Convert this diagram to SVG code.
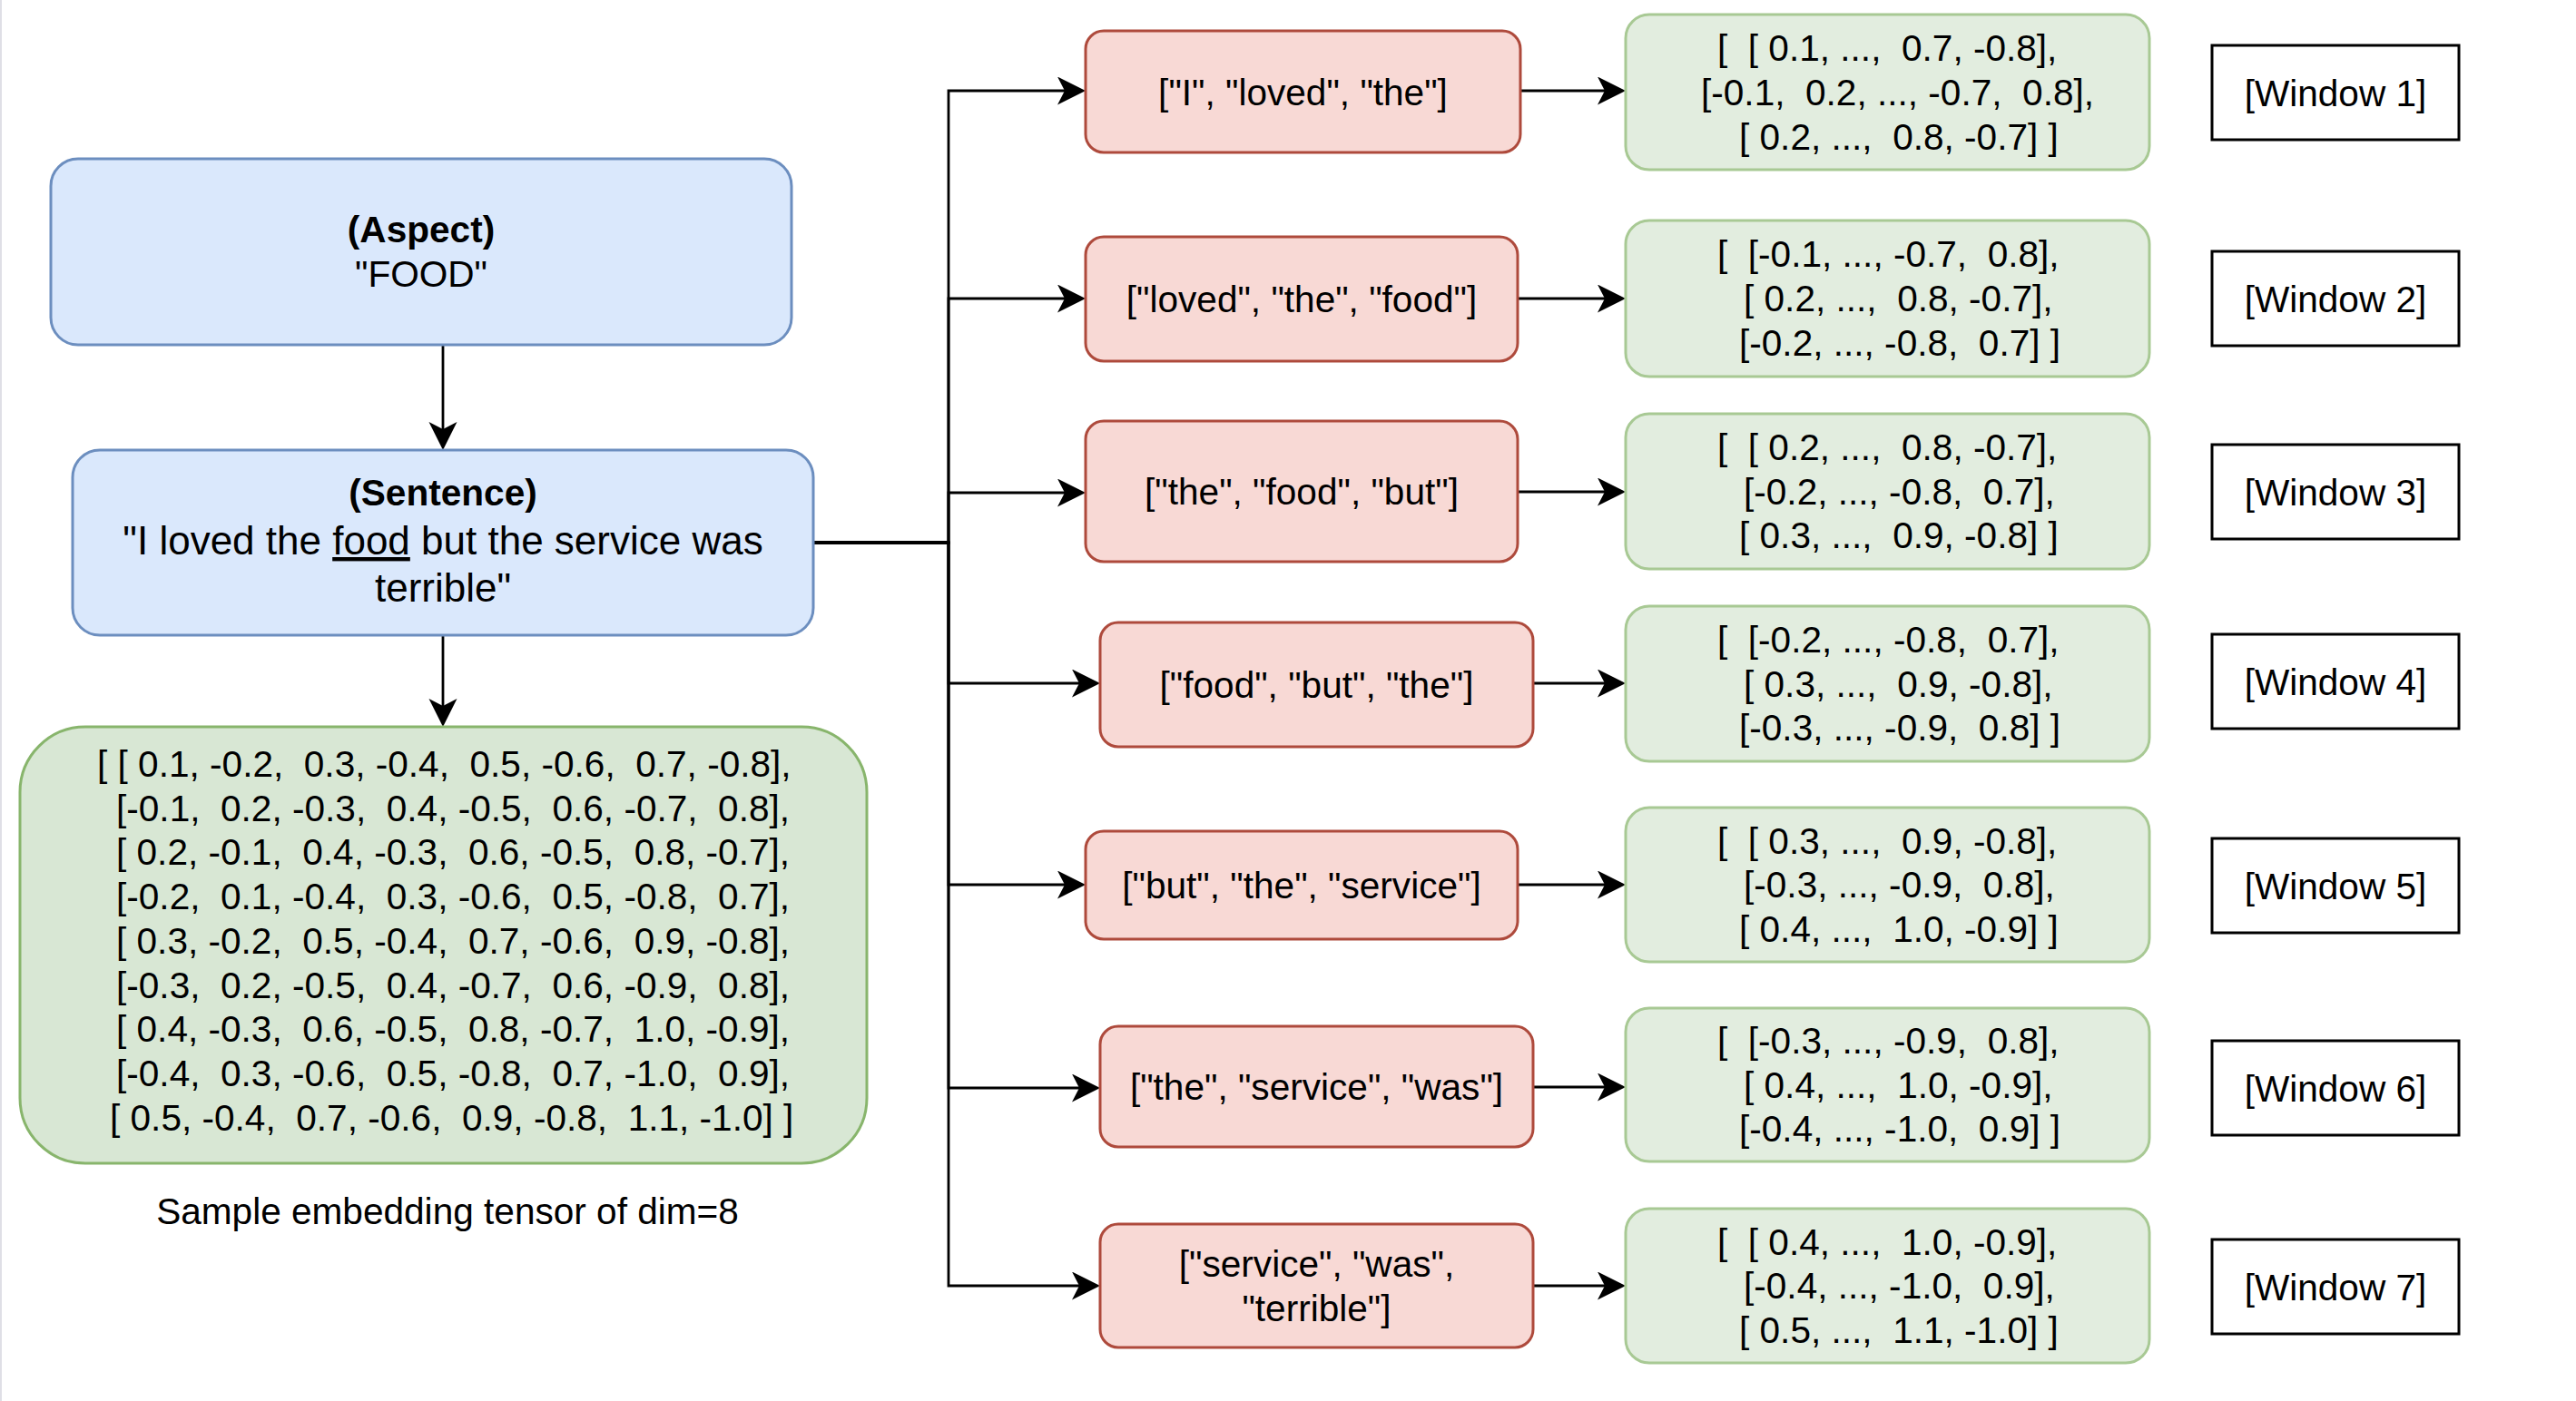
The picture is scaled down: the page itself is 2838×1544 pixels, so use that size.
<svg xmlns="http://www.w3.org/2000/svg" width="2838" height="1544" viewBox="0 0 2838 1544" xml:space="preserve">
<style>
.t{font-family:"Liberation Sans",Arial,Helvetica,sans-serif;font-size:40.6px;fill:#000;white-space:pre}
.c{text-anchor:middle}
.b{font-weight:bold}
.blue{fill:#dae8fc;stroke:#6c8ebf;stroke-width:3}
.red{fill:#f8d9d5;stroke:#ae4a3c;stroke-width:3}
.gbig{fill:#d8e7d4;stroke:#88b56c;stroke-width:3}
.gsm{fill:#e2eddf;stroke:#a8c994;stroke-width:3}
.win{fill:#fff;stroke:#000;stroke-width:3}
.edge{fill:none;stroke:#000;stroke-width:2.8;marker-end:url(#arr)}
</style>
<defs>
<marker id="arr" markerUnits="userSpaceOnUse" markerWidth="32" markerHeight="32" refX="21" refY="15.5" orient="auto" viewBox="0 0 32 32">
<path d="M31,15.5 L0,0 L8,15.5 L0,31 Z" fill="#000"/>
</marker>
</defs>
<rect width="2838" height="1544" fill="#fff"/>
<rect x="0" y="0" width="2" height="1544" fill="#dfdfe6"/>

<g id="connectors">
<path class="edge" d="M488,380 V486"/>
<path class="edge" d="M488,700 V791"/>
<path class="edge" d="M896,598 H1045 V100 H1186"/>
<path class="edge" d="M896,598 H1045 V329 H1186"/>
<path class="edge" d="M896,598 H1045 V543 H1186"/>
<path class="edge" d="M896,598 H1045 V753 H1202"/>
<path class="edge" d="M896,598 H1045 V975 H1186"/>
<path class="edge" d="M896,598 H1045 V1199 H1202"/>
<path class="edge" d="M896,598 H1045 V1417 H1202"/>
<path class="edge" d="M1675,100 H1781"/>
<path class="edge" d="M1672,329 H1781"/>
<path class="edge" d="M1672,542 H1781"/>
<path class="edge" d="M1689,753 H1781"/>
<path class="edge" d="M1672,975 H1781"/>
<path class="edge" d="M1689,1198 H1781"/>
<path class="edge" d="M1689,1417 H1781"/>
</g>

<g id="aspect">
<rect class="blue" x="56" y="175" width="816" height="205" rx="30"/>
<text class="t c b" x="464" y="267">(Aspect)</text>
<text class="t c" x="464" y="316">"FOOD"</text>
</g>

<g id="sentence">
<rect class="blue" x="80" y="496" width="816" height="204" rx="30"/>
<text class="t c b" x="488" y="557">(Sentence)</text>
<text class="t c" x="488" y="611" style="font-size:44px">"I loved the <tspan style="text-decoration:underline">food</tspan> but the service was</text>
<text class="t c" x="488" y="663" style="font-size:44px">terrible"</text>
</g>

<g id="tensor">
<rect class="gbig" x="22" y="801" width="933" height="481" rx="72"/>
<text class="t" x="107" y="856">[ [ 0.1, -0.2,  0.3, -0.4,  0.5, -0.6,  0.7, -0.8],</text>
<text class="t" x="128" y="904.7">[-0.1,  0.2, -0.3,  0.4, -0.5,  0.6, -0.7,  0.8],</text>
<text class="t" x="128" y="953.4">[ 0.2, -0.1,  0.4, -0.3,  0.6, -0.5,  0.8, -0.7],</text>
<text class="t" x="128" y="1002.1">[-0.2,  0.1, -0.4,  0.3, -0.6,  0.5, -0.8,  0.7],</text>
<text class="t" x="128" y="1050.8">[ 0.3, -0.2,  0.5, -0.4,  0.7, -0.6,  0.9, -0.8],</text>
<text class="t" x="128" y="1099.5">[-0.3,  0.2, -0.5,  0.4, -0.7,  0.6, -0.9,  0.8],</text>
<text class="t" x="128" y="1148.2">[ 0.4, -0.3,  0.6, -0.5,  0.8, -0.7,  1.0, -0.9],</text>
<text class="t" x="128" y="1196.9">[-0.4,  0.3, -0.6,  0.5, -0.8,  0.7, -1.0,  0.9],</text>
<text class="t" x="121" y="1245.6">[ 0.5, -0.4,  0.7, -0.6,  0.9, -0.8,  1.1, -1.0] ]</text>
</g>

<g id="caption">
<text class="t c" x="493" y="1349">Sample embedding tensor of dim=8</text>
</g>

<g id="tokens1"><rect class="red" x="1196" y="34" width="479" height="134" rx="20"/><text class="t c" x="1435.5" y="115.5">["I", "loved", "the"]</text></g>
<g id="tokens2"><rect class="red" x="1196" y="261" width="476" height="137" rx="20"/><text class="t c" x="1434" y="344">["loved", "the", "food"]</text></g>
<g id="tokens3"><rect class="red" x="1196" y="464" width="476" height="155" rx="20"/><text class="t c" x="1434" y="556">["the", "food", "but"]</text></g>
<g id="tokens4"><rect class="red" x="1212" y="686" width="477" height="137" rx="20"/><text class="t c" x="1450.5" y="769">["food", "but", "the"]</text></g>
<g id="tokens5"><rect class="red" x="1196" y="916" width="476" height="119" rx="20"/><text class="t c" x="1434" y="990">["but", "the", "service"]</text></g>
<g id="tokens6"><rect class="red" x="1212" y="1131" width="477" height="133" rx="20"/><text class="t c" x="1450.5" y="1212">["the", "service", "was"]</text></g>
<g id="tokens7"><rect class="red" x="1212" y="1349" width="477" height="136" rx="20"/><text class="t c" x="1450.5" y="1407">["service", "was",</text><text class="t c" x="1450.5" y="1455.7">"terrible"]</text></g>

<g id="emb1"><rect class="gsm" x="1791" y="16" width="577" height="171" rx="26"/>
<text class="t" x="1892" y="67.3">[  [ 0.1, ...,  0.7, -0.8],</text>
<text class="t" x="1874" y="116">[-0.1,  0.2, ..., -0.7,  0.8],</text>
<text class="t" x="1916" y="164.7">[ 0.2, ...,  0.8, -0.7] ]</text></g>
<g id="emb2"><rect class="gsm" x="1791" y="243" width="577" height="172" rx="26"/>
<text class="t" x="1892" y="294.3">[  [-0.1, ..., -0.7,  0.8],</text>
<text class="t" x="1921" y="343">[ 0.2, ...,  0.8, -0.7],</text>
<text class="t" x="1916" y="391.7">[-0.2, ..., -0.8,  0.7] ]</text></g>
<g id="emb3"><rect class="gsm" x="1791" y="456" width="577" height="171" rx="26"/>
<text class="t" x="1892" y="507">[  [ 0.2, ...,  0.8, -0.7],</text>
<text class="t" x="1921" y="555.7">[-0.2, ..., -0.8,  0.7],</text>
<text class="t" x="1916" y="604.4">[ 0.3, ...,  0.9, -0.8] ]</text></g>
<g id="emb4"><rect class="gsm" x="1791" y="668" width="577" height="171" rx="26"/>
<text class="t" x="1892" y="719">[  [-0.2, ..., -0.8,  0.7],</text>
<text class="t" x="1921" y="767.7">[ 0.3, ...,  0.9, -0.8],</text>
<text class="t" x="1916" y="816.4">[-0.3, ..., -0.9,  0.8] ]</text></g>
<g id="emb5"><rect class="gsm" x="1791" y="890" width="577" height="170" rx="26"/>
<text class="t" x="1892" y="940.5">[  [ 0.3, ...,  0.9, -0.8],</text>
<text class="t" x="1921" y="989.2">[-0.3, ..., -0.9,  0.8],</text>
<text class="t" x="1916" y="1037.9">[ 0.4, ...,  1.0, -0.9] ]</text></g>
<g id="emb6"><rect class="gsm" x="1791" y="1111" width="577" height="169" rx="26"/>
<text class="t" x="1892" y="1161">[  [-0.3, ..., -0.9,  0.8],</text>
<text class="t" x="1921" y="1209.7">[ 0.4, ...,  1.0, -0.9],</text>
<text class="t" x="1916" y="1258.4">[-0.4, ..., -1.0,  0.9] ]</text></g>
<g id="emb7"><rect class="gsm" x="1791" y="1332" width="577" height="170" rx="26"/>
<text class="t" x="1892" y="1382.5">[  [ 0.4, ...,  1.0, -0.9],</text>
<text class="t" x="1921" y="1431.2">[-0.4, ..., -1.0,  0.9],</text>
<text class="t" x="1916" y="1479.9">[ 0.5, ...,  1.1, -1.0] ]</text></g>

<g id="window1"><rect class="win" x="2437" y="50" width="272" height="104"/><text class="t c" x="2573" y="116.5">[Window 1]</text></g>
<g id="window2"><rect class="win" x="2437" y="277" width="272" height="104"/><text class="t c" x="2573" y="343.5">[Window 2]</text></g>
<g id="window3"><rect class="win" x="2437" y="490" width="272" height="104"/><text class="t c" x="2573" y="556.5">[Window 3]</text></g>
<g id="window4"><rect class="win" x="2437" y="699" width="272" height="104"/><text class="t c" x="2573" y="765.5">[Window 4]</text></g>
<g id="window5"><rect class="win" x="2437" y="924" width="272" height="104"/><text class="t c" x="2573" y="990.5">[Window 5]</text></g>
<g id="window6"><rect class="win" x="2437" y="1147" width="272" height="104"/><text class="t c" x="2573" y="1213.5">[Window 6]</text></g>
<g id="window7"><rect class="win" x="2437" y="1366" width="272" height="104"/><text class="t c" x="2573" y="1432.5">[Window 7]</text></g>
</svg>
